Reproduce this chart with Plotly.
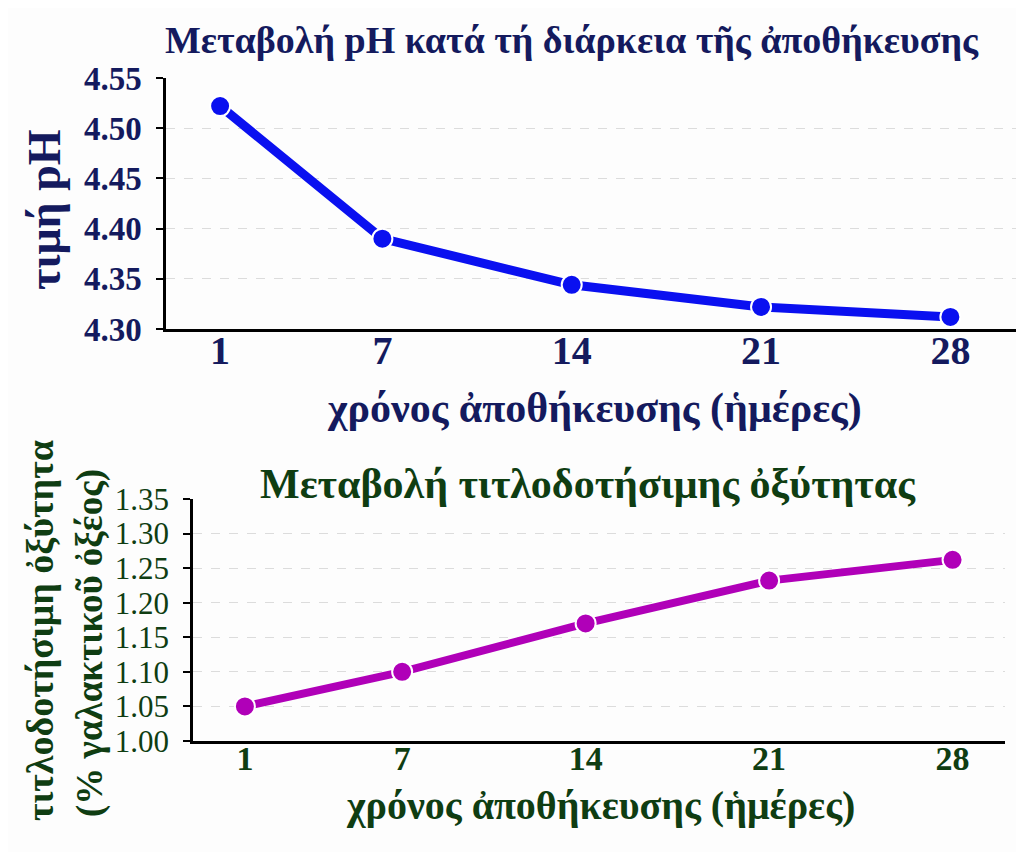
import plotly.graph_objects as go

days = [1, 7, 14, 21, 28]
ph_values = [4.522, 4.390, 4.344, 4.322, 4.312]
acidity_values = [1.050, 1.100, 1.170, 1.232, 1.262]
ph_ticks = [4.30, 4.35, 4.40, 4.45, 4.50, 4.55]
acid_ticks = [1.00, 1.05, 1.10, 1.15, 1.20, 1.25, 1.30, 1.35]

title_top = "Μεταβολή pH κατά τή διάρκεια τῆς ἀποθήκευσης"
title_bottom = "Μεταβολή τιτλοδοτήσιμης ὀξύτητας"
ylabel_top = "τιμή pH"
ylabel_bottom_1 = "τιτλοδοτήσιμη ὀξύτητα"
ylabel_bottom_2 = "(% γαλακτικοῦ ὀξέος)"
xlabel = "χρόνος ἀποθήκευσης (ἡμέρες)"

NAVY = "#141a5e"
GREEN = "#0f3d12"
FONT = "Liberation Serif"
W, H = 1024, 852
OFF = 8  # page body margin

fig = go.Figure()
fig.add_trace(go.Scatter(
    x=days, y=ph_values, mode="lines+markers", xaxis="x", yaxis="y",
    line=dict(color="#0a10f0", width=9),
    marker=dict(size=20, color="#0a10f0", line=dict(color="white", width=2)),
    showlegend=False, cliponaxis=False))
fig.add_trace(go.Scatter(
    x=days, y=acidity_values, mode="lines+markers", xaxis="x2", yaxis="y2",
    line=dict(color="#b000b8", width=8),
    marker=dict(size=20, color="#b000b8", line=dict(color="white", width=2)),
    showlegend=False, cliponaxis=False))

def px_x(v):
    return (v - OFF) / W

def px_y(v):
    return 1 - (v - OFF) / H

common_x = dict(showgrid=False, zeroline=False, showline=True, linecolor="black",
                linewidth=2.5, ticks="", tickmode="array", tickvals=days,
                ticktext=[str(d) for d in days], automargin=False)
common_y = dict(showgrid=True, griddash="dash", gridcolor="#dcdcdc", gridwidth=1,
                zeroline=False, showline=True, linecolor="black", linewidth=2.5,
                ticks="outside", ticklen=7, tickwidth=2, tickcolor="black",
                tickmode="array", tickformat=".2f", automargin=False)

fig.update_layout(
    width=W, height=H,
    margin=dict(l=0, r=0, t=0, b=0, autoexpand=False),
    paper_bgcolor="#fdfdfd", plot_bgcolor="#fdfdfd",
    xaxis=dict(domain=[px_x(166), px_x(1018)], range=[-1.0, 30.5], anchor="y",
               ticklabelstandoff=-16,
               tickfont=dict(family=FONT, size=40, color=NAVY, weight="bold"),
               **common_x),
    yaxis=dict(domain=[px_y(329), px_y(78)], range=[4.30, 4.55], anchor="x",
               tickvals=ph_ticks, ticklabelstandoff=8,
               tickfont=dict(family=FONT, size=33, color=NAVY, weight="bold"),
               **common_y),
    xaxis2=dict(domain=[px_x(193), px_x(1005)], range=[-0.98, 30.0], anchor="y2",
                ticklabelstandoff=-15,
                tickfont=dict(family=FONT, size=34, color=GREEN, weight="bold"),
                **common_x),
    yaxis2=dict(domain=[px_y(741), px_y(499)], range=[1.00, 1.35], anchor="x2",
                tickvals=acid_ticks, ticklabelstandoff=8,
                tickfont=dict(family=FONT, size=31, color=GREEN),
                **common_y),
)

ann = [
    dict(text=title_top, x=px_x(572), y=px_y(40), font=dict(family=FONT, size=38, color=NAVY, weight="bold"), textangle=0),
    dict(text=ylabel_top, x=px_x(45), y=px_y(210), font=dict(family=FONT, size=46, color=NAVY, weight="bold"), textangle=-90),
    dict(text=xlabel, x=px_x(594), y=px_y(408), font=dict(family=FONT, size=42, color=NAVY, weight="bold"), textangle=0),
    dict(text=title_bottom, x=px_x(588), y=px_y(484), font=dict(family=FONT, size=42, color=GREEN, weight="bold"), textangle=0),
    dict(text=ylabel_bottom_1, x=px_x(40), y=px_y(631), font=dict(family=FONT, size=38, color=GREEN, weight="bold"), textangle=-90),
    dict(text=ylabel_bottom_2, x=px_x(90), y=px_y(643), font=dict(family=FONT, size=37, color=GREEN, weight="bold"), textangle=-90),
    dict(text=xlabel, x=px_x(600), y=px_y(805), font=dict(family=FONT, size=40, color=GREEN, weight="bold"), textangle=0),
]
for a in ann:
    fig.add_annotation(xref="paper", yref="paper", showarrow=False,
                       xanchor="center", yanchor="middle", **a)

fig.write_html("out.html")
